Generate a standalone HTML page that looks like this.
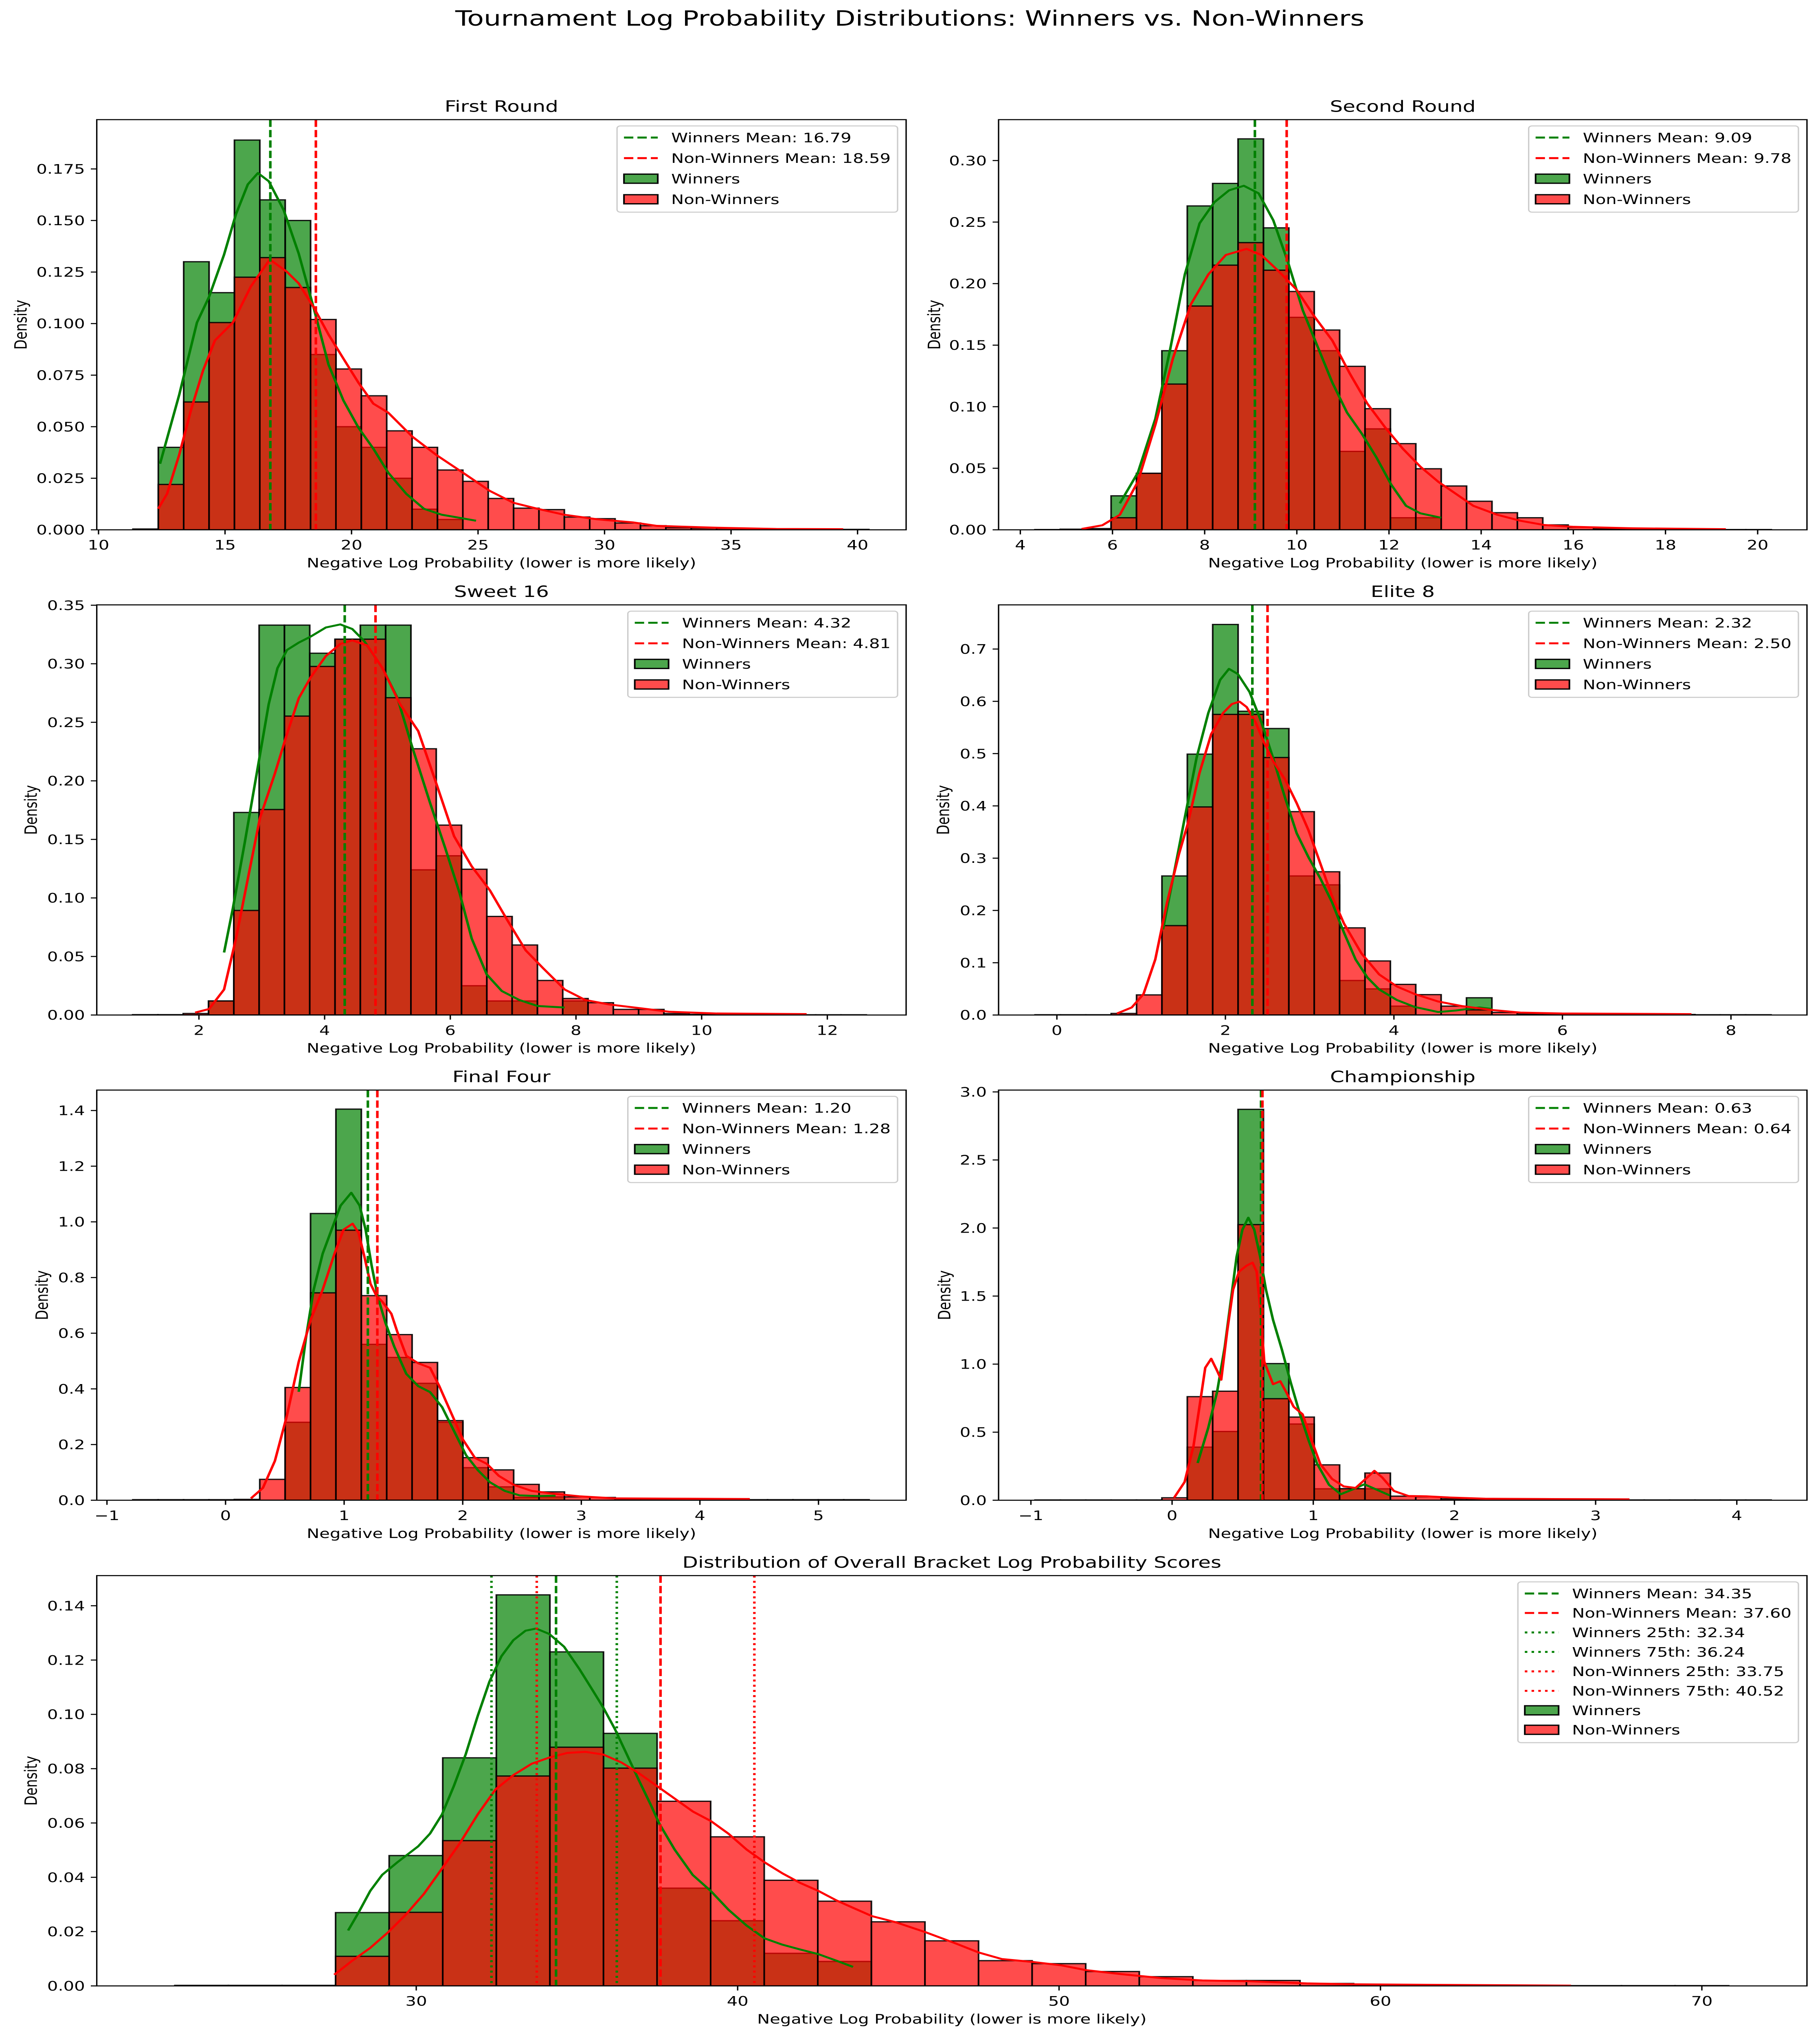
<!DOCTYPE html>
<html><head><meta charset="utf-8">
<style>
html,body{margin:0;padding:0;background:#fff;width:100%;height:100%;overflow:hidden;}
svg{display:block;width:100vw;height:100vh;}
text{font-family:"DejaVu Sans","Liberation Sans",sans-serif;fill:#000;}
</style></head>
<body>
<svg id="fig" xmlns="http://www.w3.org/2000/svg" viewBox="0 0 4469 6483" preserveAspectRatio="none" style="overflow:hidden">
<rect x="0" y="0" width="4469" height="6483" fill="#fff"/>
<text x="2234" y="82" font-size="66.7" text-anchor="middle">Tournament Log Probability Distributions: Winners vs. Non-Winners</text>
</svg>
<script>
// ---------- First Round ----------
const frBinStart = 11.36, frBinWidth = 1.003;
const frWinners = [0,0.040,0.130,0.115,0.189,0.160,0.150,0.085,0.050,0.040,0.025,0.010,0.005,0,0,0,0,0,0,0,0,0,0,0,0,0,0,0,0];
const frNonWinners = [0.0004,0.022,0.062,0.1005,0.1225,0.132,0.1175,0.102,0.078,0.065,0.048,0.040,0.029,0.0235,0.0152,0.0105,0.0098,0.0062,0.0054,0.0033,0.002,0.001,0.0008,0.0007,0.0003,0.0002,0.0002,0.0002,0.0002];
const frKdeWinX = [12.43,13.19,13.89,14.37,14.96,15.43,15.9,16.3,16.73,17.32,17.91,18.5,19.09,19.68,20.27,20.86,21.45,22.16,22.86,23.57,24.28,24.92];
const frKdeWinY = [0.032,0.0655,0.1005,0.113,0.1334,0.153,0.1675,0.173,0.169,0.155,0.134,0.1078,0.0801,0.0627,0.0496,0.0394,0.0277,0.0175,0.0102,0.0073,0.0058,0.0044];
const frKdeNonX = [12.36,12.71,13.19,13.66,14.13,14.6,15.31,16.02,16.77,17.43,17.91,18.5,19.09,19.68,20.27,20.86,21.45,22.4,23.34,24.4,25.46,26.4,27.35,28.41,29.71,31.12,32.07,34.43,36.79,39.43];
const frKdeNonY = [0.0102,0.0175,0.0364,0.0583,0.0772,0.0918,0.1005,0.118,0.1311,0.1253,0.1195,0.108,0.0947,0.083,0.0714,0.0612,0.0568,0.0452,0.0364,0.0277,0.0189,0.0131,0.0102,0.0073,0.0051,0.0036,0.0019,0.001,0.0004,0.0003];
const frMeans = [16.79, 18.59];
const frXTicks = [10,15,20,25,30,35,40];
const frYTicks = [0,0.025,0.05,0.075,0.1,0.125,0.15,0.175];
const frYTickLabels = ["0.000","0.025","0.050","0.075","0.100","0.125","0.150","0.175"];

// ---------- Second Round ----------
const srBinStart = 4.317, srBinWidth = 0.551;
const srWinners = [0,0,0,0.0276,0.0459,0.1455,0.2631,0.2814,0.3176,0.2453,0.1726,0.1455,0.0637,0.082,0.0098,0.0098,0,0,0,0,0,0,0,0,0,0,0,0,0];
const srNonWinners = [0.0002,0.0005,0.001,0.0098,0.0459,0.1184,0.1818,0.215,0.2333,0.2109,0.1936,0.1623,0.1328,0.0984,0.07,0.0496,0.0356,0.0232,0.0139,0.0098,0.004,0.002,0.001,0.0005,0.0005,0.0003,0.0002,0.0002,0.0002];
const srKdeWinX = [6.16,6.55,6.93,7.25,7.57,7.89,8.21,8.53,8.85,9.17,9.49,9.81,10.13,10.45,10.77,11.09,11.41,11.73,12.05,12.37,12.68,13.13];
const srKdeWinY = [0.0215,0.0464,0.0903,0.1464,0.2075,0.249,0.2661,0.2758,0.2795,0.2734,0.2514,0.2172,0.1782,0.1489,0.1196,0.0952,0.0781,0.0586,0.0366,0.0195,0.0134,0.0098];
const srKdeNonX = [5.33,5.78,6.16,6.55,6.93,7.31,7.7,8.08,8.46,8.91,9.23,9.61,9.99,10.38,10.77,11.15,11.53,11.92,12.3,12.68,13.07,13.45,13.83,14.35,14.86,15.37,16.01,17.29,19.31];
const srKdeNonY = [0.0007,0.0037,0.0122,0.039,0.0854,0.1391,0.1831,0.2075,0.2233,0.2282,0.2233,0.2099,0.1953,0.1733,0.1538,0.1269,0.1025,0.083,0.0659,0.0513,0.039,0.0293,0.0195,0.0122,0.0073,0.0039,0.0024,0.0012,0.0005];
const srMeans = [9.09, 9.78];
const srXTicks = [4,6,8,10,12,14,16,18,20];
const srYTicks = [0,0.05,0.1,0.15,0.2,0.25,0.3];
const srYTickLabels = ["0.00","0.05","0.10","0.15","0.20","0.25","0.30"];

// ---------- Sweet 16 ----------
const s16BinStart = 0.945, s16BinWidth = 0.4026;
const s16Winners = [0,0,0,0.012,0.173,0.333,0.333,0.309,0.321,0.333,0.333,0.124,0.136,0.025,0.012,0.012,0,0.012,0,0,0,0,0,0,0,0,0,0,0];
const s16NonWinners = [0.0003,0.0003,0.0013,0.012,0.0893,0.1755,0.2553,0.2977,0.321,0.321,0.271,0.2274,0.1622,0.1245,0.0842,0.0598,0.0295,0.0141,0.0105,0.0048,0.0048,0.0012,0.0005,0.0003,0.0003,0.0002,0.0002,0.0002,0.0002];
const s16KdeWinX = [2.4,2.54,2.73,2.92,3.11,3.25,3.4,3.59,3.78,4.02,4.25,4.44,4.63,4.92,5.16,5.39,5.68,5.92,6.15,6.34,6.58,6.82,7.1,7.39,7.82];
const s16KdeWinY = [0.0534,0.0911,0.1475,0.2065,0.2655,0.2963,0.3117,0.3181,0.3233,0.331,0.3336,0.3297,0.3194,0.2963,0.2707,0.2296,0.1809,0.1424,0.1039,0.0654,0.0346,0.0205,0.0128,0.0077,0.0064];
const s16KdeNonX = [1.94,2.16,2.4,2.59,2.78,2.97,3.21,3.4,3.59,3.78,4.02,4.25,4.44,4.68,4.92,5.2,5.49,5.77,6.06,6.34,6.63,6.91,7.2,7.48,7.82,8.15,8.53,9.01,9.48,10.24,11.67];
const s16KdeNonY = [0.0021,0.0051,0.0218,0.0654,0.1168,0.1681,0.2065,0.2399,0.2707,0.2886,0.3066,0.3169,0.32,0.3156,0.2963,0.2655,0.2425,0.1989,0.1527,0.127,0.1065,0.0808,0.0552,0.0398,0.0218,0.0128,0.009,0.0059,0.0028,0.0013,0.0008];
const s16Means = [4.32, 4.81];
const s16XTicks = [2,4,6,8,10,12];
const s16YTicks = [0,0.05,0.1,0.15,0.2,0.25,0.3,0.35];
const s16YTickLabels = ["0.00","0.05","0.10","0.15","0.20","0.25","0.30","0.35"];

// ---------- Elite 8 ----------
const e8BinStart = -0.259, e8BinWidth = 0.3012;
const e8Winners = [0,0,0,0,0,0.266,0.499,0.747,0.581,0.548,0.266,0.249,0.066,0.050,0.017,0,0,0.033,0,0,0,0,0,0,0,0,0,0,0];
const e8NonWinners = [0.0005,0.0005,0.0005,0.003,0.0385,0.171,0.398,0.575,0.575,0.4925,0.389,0.274,0.1667,0.1034,0.0586,0.039,0.017,0.0098,0.005,0.002,0.001,0.001,0.001,0.001,0.001,0.001,0.0005,0.0005,0.0005];
const e8KdeWinX = [1.259,1.378,1.517,1.657,1.797,1.937,2.042,2.147,2.287,2.427,2.566,2.706,2.846,2.986,3.126,3.266,3.406,3.545,3.685,3.825,4.035,4.245,4.524,4.734,5.014,5.168];
const e8KdeWinY = [0.1638,0.2615,0.3764,0.4914,0.5776,0.6408,0.6621,0.6523,0.6178,0.5603,0.4914,0.4167,0.3477,0.3017,0.2615,0.2155,0.158,0.1063,0.0718,0.0489,0.0287,0.0155,0.0057,0.0086,0.0144,0.0115];
const e8KdeNonX = [0.713,0.888,1.028,1.168,1.308,1.448,1.552,1.692,1.832,1.972,2.077,2.168,2.252,2.357,2.462,2.566,2.706,2.846,2.986,3.126,3.266,3.406,3.615,3.825,4.035,4.245,4.524,4.804,5.154,5.503,5.993,7.531];
const e8KdeNonY = [0.0029,0.0144,0.0402,0.1063,0.2155,0.3075,0.3649,0.4626,0.5374,0.5776,0.5948,0.5994,0.5891,0.5603,0.5201,0.4856,0.4511,0.4052,0.3534,0.2902,0.227,0.1753,0.1178,0.0776,0.0546,0.0402,0.0259,0.0172,0.0098,0.0046,0.0029,0.0017];
const e8Means = [2.32, 2.50];
const e8XTicks = [0,2,4,6,8];
const e8YTicks = [0,0.1,0.2,0.3,0.4,0.5,0.6,0.7];
const e8YTickLabels = ["0.0","0.1","0.2","0.3","0.4","0.5","0.6","0.7"];

// ---------- Final Four ----------
const ffBinStart = -0.782, ffBinWidth = 0.2141;
const ffWinners = [0,0,0,0,0,0,0.28,1.03,1.405,0.56,0.513,0.42,0.28,0.117,0.048,0.01,0.012,0,0,0,0,0,0,0,0,0,0,0,0];
const ffNonWinners = [0.002,0.002,0.002,0.002,0.003,0.075,0.405,0.745,0.97,0.735,0.595,0.495,0.286,0.153,0.109,0.057,0.030,0.012,0.01,0.003,0.003,0.002,0.002,0.002,0.002,0.002,0.002,0.002,0.002];
const ffKdeWinX = [0.617,0.678,0.743,0.819,0.894,0.97,1.06,1.131,1.181,1.232,1.282,1.348,1.423,1.524,1.625,1.725,1.826,1.927,2.028,2.128,2.229,2.355,2.481,2.632,2.783];
const ffKdeWinY = [0.3894,0.5836,0.7562,0.8856,0.9719,1.0582,1.1046,1.0582,0.9719,0.8425,0.7346,0.6376,0.5513,0.4541,0.4099,0.3883,0.3344,0.2481,0.1618,0.1079,0.0647,0.0334,0.0173,0.0151,0.0162];
const ffKdeNonX = [0.214,0.315,0.416,0.517,0.617,0.718,0.819,0.919,0.995,1.071,1.121,1.171,1.222,1.272,1.322,1.398,1.448,1.524,1.625,1.725,1.801,1.902,2.003,2.103,2.204,2.305,2.431,2.582,2.783,2.985,3.287,3.892,4.421];
const ffKdeNonY = [0.0065,0.0442,0.1413,0.3031,0.4972,0.6483,0.7562,0.8856,0.9719,0.9935,0.9611,0.8748,0.7778,0.7346,0.7131,0.67,0.6053,0.519,0.4919,0.4757,0.4111,0.3139,0.2168,0.1521,0.1305,0.0874,0.055,0.0334,0.0226,0.014,0.0065,0.0054,0.0043];
const ffMeans = [1.20, 1.28];
const ffXTicks = [-1,0,1,2,3,4,5];
const ffYTicks = [0,0.2,0.4,0.6,0.8,1.0,1.2,1.4];
const ffYTickLabels = ["0.0","0.2","0.4","0.6","0.8","1.0","1.2","1.4"];

// ---------- Championship ----------
const chBinStart = -0.971, chBinWidth = 0.1798;
const chWinners = [0,0,0,0,0,0,0.39,0.505,2.872,1.004,0.56,0.084,0.084,0.084,0,0,0,0,0,0,0,0,0,0,0,0,0,0,0];
const chNonWinners = [0.002,0.002,0.002,0.002,0.002,0.018,0.761,0.801,2.025,0.746,0.611,0.26,0.085,0.20,0.03,0.025,0.01,0.005,0.002,0.002,0.002,0.002,0.002,0.002,0.002,0.002,0.002,0.002,0.002];
const chKdeWinX = [0.181,0.256,0.319,0.373,0.415,0.457,0.498,0.54,0.582,0.624,0.665,0.715,0.778,0.841,0.903,0.966,1.028,1.112,1.195,1.279,1.362,1.446,1.542];
const chKdeWinY = [0.2736,0.5317,0.7964,1.1273,1.4582,1.7891,1.9876,2.0759,1.9876,1.7891,1.5464,1.3258,1.1052,0.8626,0.642,0.4434,0.2669,0.1125,0.0441,0.0794,0.1169,0.0794,0.0353];
const chKdeNonX = [0.014,0.089,0.152,0.194,0.235,0.277,0.319,0.348,0.39,0.432,0.474,0.528,0.57,0.599,0.624,0.653,0.715,0.766,0.807,0.861,0.924,0.987,1.049,1.133,1.216,1.3,1.383,1.433,1.488,1.571,1.675,1.801,1.968,2.218,2.635,3.24];
const chKdeNonY = [0.0176,0.1346,0.4001,0.6869,0.9736,1.0398,0.9516,0.8854,1.2384,1.5472,1.6796,1.7237,1.7458,1.6796,1.4149,1.0178,0.8523,0.8744,0.7972,0.6869,0.6318,0.4434,0.2669,0.1566,0.1015,0.0904,0.1677,0.2162,0.1677,0.0684,0.0309,0.0287,0.0199,0.011,0.0088,0.0066];
const chMeans = [0.63, 0.64];
const chXTicks = [-1,0,1,2,3,4];
const chYTicks = [0,0.5,1.0,1.5,2.0,2.5,3.0];
const chYTickLabels = ["0.0","0.5","1.0","1.5","2.0","2.5","3.0"];

// ---------- Overall ----------
const ovBinStart = 22.49, ovBinWidth = 1.667;
const ovWinners = [0,0,0,0.027,0.048,0.084,0.144,0.123,0.093,0.036,0.024,0.012,0.009,0,0,0,0,0,0,0,0,0,0,0,0,0,0,0,0];
const ovNonWinners = [0.0002,0.0002,0.0002,0.0109,0.0271,0.0535,0.0773,0.0879,0.0802,0.068,0.0549,0.0389,0.0312,0.0236,0.0166,0.0093,0.0082,0.0053,0.0034,0.002,0.002,0.0009,0.0004,0.0003,0.0002,0.0001,0.0001,0.0001,0.0001];
const ovKdeWinX = [27.88,28.2,28.57,28.94,29.41,30.06,30.43,30.8,31.17,31.54,31.91,32.28,32.65,33.02,33.4,33.73,34.14,34.6,35.07,35.44,35.81,36.18,36.55,36.92,37.3,37.57,38.04,38.6,39.16,39.72,40.28,40.84,41.39,41.95,42.51,43.07,43.59];
const ovKdeWinY = [0.0204,0.0269,0.035,0.0409,0.0455,0.0514,0.0561,0.0631,0.0736,0.0853,0.0993,0.1121,0.1214,0.1273,0.1308,0.1316,0.1296,0.1249,0.1168,0.1098,0.1027,0.0946,0.0853,0.0759,0.0666,0.0596,0.0502,0.0409,0.035,0.028,0.0222,0.0175,0.0152,0.0134,0.0117,0.0093,0.007];
const ovKdeNonX = [27.45,28.01,28.57,29.13,29.68,30.24,30.8,31.36,31.91,32.47,33.03,33.59,34.14,34.7,35.26,35.82,36.38,36.93,37.49,38.05,38.61,39.17,39.72,40.28,40.84,41.4,41.95,42.51,43.07,43.62,44.18,44.93,45.84,46.75,47.5,48.22,49.19,50.06,50.84,51.89,53.17,54.46,55.93,57.76,59.23,61.43,65.93];
const ovKdeNonY = [0.0041,0.0093,0.014,0.0198,0.0263,0.0339,0.0432,0.0526,0.0631,0.0724,0.0777,0.0818,0.0841,0.0858,0.0862,0.0852,0.0823,0.0783,0.0736,0.0689,0.0642,0.0607,0.056,0.0502,0.0455,0.0414,0.0379,0.035,0.0315,0.0286,0.0257,0.0234,0.0198,0.0158,0.0123,0.0099,0.0088,0.0076,0.0058,0.0044,0.0029,0.002,0.0017,0.0009,0.0006,0.0004,0.0001];
const ovMeans = [34.35, 37.60];
const ovQuartiles = [32.34, 36.24, 33.75, 40.52];
const ovXTicks = [30,40,50,60,70];
const ovYTicks = [0,0.02,0.04,0.06,0.08,0.10,0.12,0.14];
const ovYTickLabels = ["0.00","0.02","0.04","0.06","0.08","0.10","0.12","0.14"];

const NS = "http://www.w3.org/2000/svg";
const svg = document.getElementById("fig");
function mk(tag, attrs, parent) {
  const e = document.createElementNS(NS, tag);
  for (const k in attrs) e.setAttribute(k, attrs[k]);
  (parent || svg).appendChild(e);
  return e;
}
function fmt(v){ return (v<0 ? "\u2212" + (-v) : "" + v); }

function drawPanel(p) {
  const g = mk("g", {});
  
  
  const sx = v => p.x0 + (v - p.xmin) / (p.xmax - p.xmin) * (p.x1 - p.x0);
  const sy = v => p.y1 - v / p.ymax * (p.y1 - p.y0);
  const cp = mk("clipPath", {id: "clip-" + p.slug}, g);
  mk("rect", {x: p.x0, y: p.y0, width: p.x1 - p.x0, height: p.y1 - p.y0}, cp);
  const plot = mk("g", {"clip-path": "url(#clip-" + p.slug + ")"}, g);
  
  
  function bars(vals, fill, name) {
    vals.forEach((v, i) => {
      const a = sx(p.binStart + i * p.binWidth), b = sx(p.binStart + (i + 1) * p.binWidth);
      const r = mk("rect", {x: a, y: sy(v), width: b - a, height: sy(0) - sy(v), fill: fill, "fill-opacity": 0.7, stroke: "#000", "stroke-width": 4, "stroke-opacity": 0.9}, plot);
      
      
    });
  }
  bars(p.win, "#008000", p.slug + '-winners');
  bars(p.non, "#ff0000", p.slug + '-non-winners');
  function kde(xs, ys, color, name) {
    const d = xs.map((x, i) => (i ? "L" : "M") + sx(x).toFixed(1) + "," + sy(ys[i]).toFixed(1)).join(" ");
    const l = mk("path", {d: d, fill: "none", stroke: color, "stroke-width": 6.25, "stroke-linejoin": "round"}, plot);
    
    
  }
  kde(p.kwx, p.kwy, "#008000", p.slug + '-winners-kde');
  kde(p.knx, p.kny, "#ff0000", p.slug + '-non-winners-kde');
  p.vlines.forEach((vl, i) => {
    const l = mk("line", {x1: sx(vl.v), x2: sx(vl.v), y1: p.y0, y2: p.y1, stroke: vl.c, "stroke-width": 6.25, "stroke-dasharray": vl.dot ? "6.25,10.3" : "23,10"}, plot);
    
    
  });
  const fr = mk("rect", {x: p.x0, y: p.y0, width: p.x1 - p.x0, height: p.y1 - p.y0, fill: "none", stroke: "#000", "stroke-width": 3.33}, g);
  
  
  p.xt.forEach(v => {
    const x = sx(v);
    const t = mk("line", {x1: x, x2: x, y1: p.y1, y2: p.y1 + 14.6, stroke: "#000", "stroke-width": 3.33}, g);
    
    
    const tx = mk("text", {x: x, y: p.y1 + 63, "font-size": 41.67, "text-anchor": "middle"}, g);
    tx.textContent = fmt(v);
    
    
  });
  p.yt.forEach((v, i) => {
    const y = sy(v);
    const t = mk("line", {x1: p.x0 - 14.6, x2: p.x0, y1: y, y2: y, stroke: "#000", "stroke-width": 3.33}, g);
    
    
    const tx = mk("text", {x: p.x0 - 29, y: y + 15, "font-size": 41.67, "text-anchor": "end"}, g);
    tx.textContent = p.ytl[i];
    
    
  });
  const title = mk("text", {x: (p.x0 + p.x1) / 2, y: p.y0 - 25, "font-size": 50, "text-anchor": "middle"}, g);
  title.textContent = p.title;
  
  
  const xl = mk("text", {x: (p.x0 + p.x1) / 2, y: p.y1 + 120, "font-size": 41.67, "text-anchor": "middle"}, g);
  xl.textContent = "Negative Log Probability (lower is more likely)";
  
  
  const ym = (p.y0 + p.y1) / 2;
  const yl = mk("text", {x: p.ylx, y: ym, "font-size": 41.67, "text-anchor": "middle", "dominant-baseline": "central", transform: "rotate(-90 " + p.ylx + " " + ym + ")"}, g);
  yl.textContent = "Density";
  
  
  const lg = mk("g", {}, g);
  
  
  const box = mk("rect", {rx: 8, ry: 8, fill: "#fff", "fill-opacity": 0.8, stroke: "#cccccc", "stroke-width": 3.33}, lg);
  
  
  const rowH = p.legRow;
  const texts = [];
  p.legend.forEach(en => {
    const tx = mk("text", {"font-size": 41.67}, lg);
    tx.textContent = en.t;
    
    
    texts.push(tx);
  });
  let maxW = 0;
  texts.forEach(t => { maxW = Math.max(maxW, t.getComputedTextLength()); });
  const w = 133 + maxW + 17;
  const h = 37 * 2 + rowH * (p.legend.length - 1);
  const bx = p.x1 - 21 - w, by = p.y0 + 20;
  box.setAttribute("x", bx); box.setAttribute("y", by);
  box.setAttribute("width", w); box.setAttribute("height", h + 4);
  p.legend.forEach((en, i) => {
    const cy = by + 37 + i * rowH;
    texts[i].setAttribute("x", bx + 133);
    texts[i].setAttribute("y", cy + 15);
    let hnd;
    if (en.k === "patch") {
      hnd = mk("rect", {x: bx + 17, y: cy - 14.5, width: 83, height: 29, fill: en.c, "fill-opacity": 0.7, stroke: "#000", "stroke-width": 4}, lg);
    } else {
      hnd = mk("line", {x1: bx + 17, x2: bx + 100, y1: cy, y2: cy, stroke: en.c, "stroke-width": 6.25, "stroke-dasharray": en.k === "dot" ? "6.25,10.3" : "23,10"}, lg);
    }
    
    
  });
}

function std(slug, title, geom, means) {
  return Object.assign({slug: slug, title: title, legRow: 65.5,
    vlines: [{v: means[0], c: "#008000", n: "winners-mean-line"}, {v: means[1], c: "#ff0000", n: "non-winners-mean-line"}],
    legend: [
      {t: "Winners Mean: " + means[0].toFixed(2), k: "dash", c: "#008000"},
      {t: "Non-Winners Mean: " + means[1].toFixed(2), k: "dash", c: "#ff0000"},
      {t: "Winners", k: "patch", c: "#008000"},
      {t: "Non-Winners", k: "patch", c: "#ff0000"}]}, geom);
}
const L = {x0: 237.6, x1: 2225}, R = {x0: 2452, x1: 4437};
const rows = [381, 1926, 3471];
const H = 1306;

drawPanel(std("first-round", "First Round", Object.assign({}, L, {y0: rows[0], y1: rows[0] + H, xmin: 9.93, xmax: 41.92, ymax: 0.1989, binStart: frBinStart, binWidth: frBinWidth, win: frWinners, non: frNonWinners, kwx: frKdeWinX, kwy: frKdeWinY, knx: frKdeNonX, kny: frKdeNonY, xt: frXTicks, yt: frYTicks, ytl: frYTickLabels, ylx: 51}), frMeans));
drawPanel(std("second-round", "Second Round", Object.assign({}, R, {y0: rows[0], y1: rows[0] + H, xmin: 3.528, xmax: 21.07, ymax: 0.3332, binStart: srBinStart, binWidth: srBinWidth, win: srWinners, non: srNonWinners, kwx: srKdeWinX, kwy: srKdeWinY, knx: srKdeNonX, kny: srKdeNonY, xt: srXTicks, yt: srYTicks, ytl: srYTickLabels, ylx: 2294}), srMeans));
drawPanel(std("sweet-16", "Sweet 16", Object.assign({}, L, {y0: rows[1], y1: rows[1] + H, xmin: 0.374, xmax: 13.254, ymax: 0.3503, binStart: s16BinStart, binWidth: s16BinWidth, win: s16Winners, non: s16NonWinners, kwx: s16KdeWinX, kwy: s16KdeWinY, knx: s16KdeNonX, kny: s16KdeNonY, xt: s16XTicks, yt: s16YTicks, ytl: s16YTickLabels, ylx: 76}), s16Means));
drawPanel(std("elite-8", "Elite 8", Object.assign({}, R, {y0: rows[1], y1: rows[1] + H, xmin: -0.692, xmax: 8.902, ymax: 0.7845, binStart: e8BinStart, binWidth: e8BinWidth, win: e8Winners, non: e8NonWinners, kwx: e8KdeWinX, kwy: e8KdeWinY, knx: e8KdeNonX, kny: e8KdeNonY, xt: e8XTicks, yt: e8YTicks, ytl: e8YTickLabels, ylx: 2316}), e8Means));
drawPanel(std("final-four", "Final Four", Object.assign({}, L, {y0: rows[2], y1: rows[2] + H, xmin: -1.086, xmax: 5.739, ymax: 1.4734, binStart: ffBinStart, binWidth: ffBinWidth, win: ffWinners, non: ffNonWinners, kwx: ffKdeWinX, kwy: ffKdeWinY, knx: ffKdeNonX, kny: ffKdeNonY, xt: ffXTicks, yt: ffYTicks, ytl: ffYTickLabels, ylx: 103}), ffMeans));
drawPanel(std("championship", "Championship", Object.assign({}, R, {y0: rows[2], y1: rows[2] + H, xmin: -1.229, xmax: 4.497, ymax: 3.0135, binStart: chBinStart, binWidth: chBinWidth, win: chWinners, non: chNonWinners, kwx: chKdeWinX, kwy: chKdeWinY, knx: chKdeNonX, kny: chKdeNonY, xt: chXTicks, yt: chYTicks, ytl: chYTickLabels, ylx: 2319}), chMeans));

drawPanel({slug: "overall", title: "Distribution of Overall Bracket Log Probability Scores", legRow: 62,
  x0: 237.6, x1: 4437, y0: 5017, y1: 6323.5, xmin: 20.06, xmax: 73.27, ymax: 0.1511,
  binStart: ovBinStart, binWidth: ovBinWidth, win: ovWinners, non: ovNonWinners,
  kwx: ovKdeWinX, kwy: ovKdeWinY, knx: ovKdeNonX, kny: ovKdeNonY,
  xt: ovXTicks, yt: ovYTicks, ytl: ovYTickLabels, ylx: 76,
  vlines: [
    {v: ovMeans[0], c: "#008000", n: "winners-mean-line"},
    {v: ovMeans[1], c: "#ff0000", n: "non-winners-mean-line"},
    {v: ovQuartiles[0], c: "#008000", dot: true, n: "winners-25th-line"},
    {v: ovQuartiles[1], c: "#008000", dot: true, n: "winners-75th-line"},
    {v: ovQuartiles[2], c: "#ff0000", dot: true, n: "non-winners-25th-line"},
    {v: ovQuartiles[3], c: "#ff0000", dot: true, n: "non-winners-75th-line"}],
  legend: [
    {t: "Winners Mean: " + ovMeans[0].toFixed(2), k: "dash", c: "#008000"},
    {t: "Non-Winners Mean: " + ovMeans[1].toFixed(2), k: "dash", c: "#ff0000"},
    {t: "Winners 25th: " + ovQuartiles[0].toFixed(2), k: "dot", c: "#008000"},
    {t: "Winners 75th: " + ovQuartiles[1].toFixed(2), k: "dot", c: "#008000"},
    {t: "Non-Winners 25th: " + ovQuartiles[2].toFixed(2), k: "dot", c: "#ff0000"},
    {t: "Non-Winners 75th: " + ovQuartiles[3].toFixed(2), k: "dot", c: "#ff0000"},
    {t: "Winners", k: "patch", c: "#008000"},
    {t: "Non-Winners", k: "patch", c: "#ff0000"}]});
</script>
</body></html>
